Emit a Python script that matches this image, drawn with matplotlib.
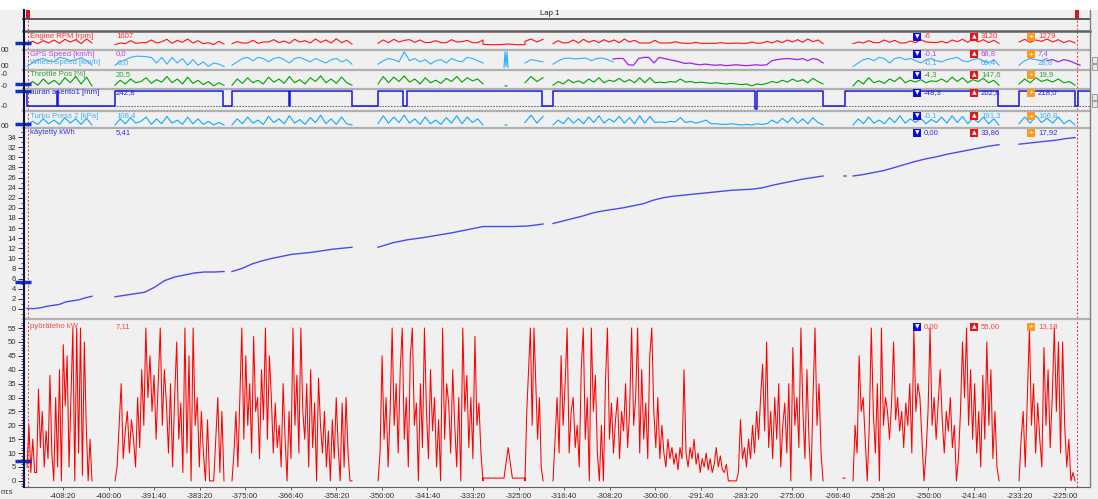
import numpy as np
import matplotlib
matplotlib.use("Agg")
import matplotlib.pyplot as plt
from matplotlib.lines import Line2D
from matplotlib.patches import Rectangle
from matplotlib.ticker import MultipleLocator, FuncFormatter

plt.rcParams['font.family'] = ['Liberation Sans', 'DejaVu Sans']

# Visible time window in seconds, lap marker times and x tick positions
t_left, t_right = -24939, -13227
lap_marks = [-24884, -13370]
x_ticks = list(range(-24500, -13499, 500))

# Time blocks (start, end) where the logger has samples
top_blocks = [(-24895, -24182), (-23929, -22733), (-22645, -21328), (-21042, -19890),
              (-19890, -19429), (-19429, -19231), (-19121, -16157), (-15828, -14226),
              (-14006, -13391)]
thr_blocks = [(-24895, -24182), (-23929, -22733), (-22645, -21328), (-21042, -19890),
              (-19648, -19626), (-19429, -19231), (-19121, -16157), (-15828, -14226),
              (-14006, -13391)]
wheel_blocks = [(-24895, -24182), (-23929, -22733), (-22645, -21328), (-21042, -19890),
                (-19659, -19615), (-19429, -19231), (-19121, -18463), (-15828, -14226),
                (-14006, -13699)]
gps_blocks = [(-18463, -16157), (-13699, -13336)]
kwh_blocks = [(-24895, -24182), (-23929, -22733), (-22645, -21328), (-21042, -19231),
              (-19121, -16157), (-15927, -15905), (-15828, -14226), (-14006, -13391)]
kw_blocks = [(-24895, -24182), (-23929, -22733), (-22645, -21328), (-21042, -19890),
             (-19890, -19429), (-19429, -19231), (-19121, -16157), (-15938, -15916),
             (-15828, -14226), (-14006, -13391)]

# Engine RPM [rpm]
rpm_values = [
    [1200, 2000, 1300, 2200, 1500, 2400, 1400, 2600, 1800, 2500, 1300, 2700, 1500],
    [1000, 1500, 1300, 2200, 1400, 1600, 1600, 2400, 1500, 1900, 2600, 1400, 2300, 1700,
     2700, 1500, 2200, 1300, 1600, 1000, 2000, 1200],
    [1300, 1900, 1500, 1500, 2300, 1400, 1800, 1800, 2500, 1600, 2100, 1400, 2600, 1800,
     2200, 1500, 2700, 1700, 2400, 1500, 2800, 1600, 2300, 1200],
    [1400, 2400, 1600, 2600, 1800, 2300, 2500, 1700, 2400, 1600, 1700, 2200, 1600, 1600,
     2500, 1800, 1900, 2300, 1600, 1600, 2400],
    [1100, 1000, 1000, 1200, 1000, 1000],
    [2000, 2700, 1800, 2600],
    [1300, 2200, 1500, 1600, 2400, 1500, 2600, 1700, 2300, 1600, 2500, 1800, 2400, 1600,
     2700, 1800, 2300, 1500,
     1500, 1500, 2300, 1500, 1500, 1500, 1900, 1500, 1400, 1400, 1700, 1400, 1400, 1400,
     1400, 1600, 1400, 1400, 1500, 1400, 1400, 1800, 1400, 1500,
     2000, 1500, 2200, 1600, 2400, 1800, 2500, 1700, 2700, 1900, 2400, 1300],
    [1300, 1800, 1500, 2200, 1600, 1600, 2400, 1700, 2300, 1500, 1500, 2100, 1600, 2500,
     1800, 1700, 1600, 2000, 1500, 2400, 1900, 2600, 1700, 2800, 1800, 2500, 1600, 2300, 1400],
    [1800, 2600, 1700, 2400, 2000, 2700, 1800, 2500, 1600, 2200, 1500],
]

# Wheel Speed [km/h] and GPS Speed [km/h]
wheel_values = [
    [5, 20, 35, 40, 30, 25, 45, 40, 30, 35, 45, 30, 10],
    [10, 25, 35, 45, 50, 50, 48, 45, 20, 45, 15, 45, 20, 40, 10, 35, 10, 25, 5, 20, 15, 5],
    [10, 25, 40, 45, 30, 45, 40, 25, 40, 45, 35, 20, 40, 45, 35, 25, 40, 30, 20, 35, 40, 25, 35, 15],
    [15, 30, 40, 35, 25, 70, 30, 40, 25, 35, 15, 30, 35, 20, 40, 30, 25, 45, 40, 30, 20],
    [0, 70, 5, 70, 0],
    [20, 35, 30, 25],
    [15, 30, 40, 42, 38, 40, 42, 30, 40, 42, 35, 25],
    [5, 20, 35, 40, 30, 45, 40, 20, 40, 45, 35, 40, 30, 20, 35, 40, 30, 25, 35, 40, 45, 30,
     25, 35, 40, 30, 20, 35, 10],
    [10, 30, 40, 35, 30, 40],
]
gps_values = [
    [38, 40, 40, 12, 10, 40, 45, 45, 20, 45, 40, 35, 30, 25, 18, 20, 15, 12, 15, 12, 10, 12,
     8, 10, 12, 10, 8, 10, 12, 10, 12, 30, 35, 38, 40, 38, 35, 40, 30, 40, 35, 20],
    [30, 35, 25, 35, 30, 20, 10],
]

# Throttle Pos [%]
thr_values = [
    [5, 40, 10, 60, 20, 50, 15, 70, 30, 80, 20, 75, 5],
    [10, 50, 20, 60, 30, 40, 70, 25, 55, 35, 80, 30, 60, 20, 75, 25, 50, 15, 40, 5, 30, 10],
    [10, 60, 25, 70, 30, 50, 20, 75, 35, 60, 25, 80, 30, 55, 20, 70, 40, 85, 30, 60, 25, 75, 30, 10],
    [20, 80, 30, 75, 40, 85, 35, 60, 20, 70, 30, 50, 25, 65, 40, 80, 35, 70, 45, 60, 20],
    [5, 5],
    [30, 80, 40, 70],
    [10, 40, 20, 55, 30, 45, 25, 60, 35, 70, 30, 50, 40, 65, 35, 55, 30, 70,
     30, 70, 30, 35, 30, 40, 35, 60, 35, 40, 30, 35, 30, 25, 30, 25, 20, 25, 20, 15, 20, 5, 20, 15,
     25, 40, 30, 50, 35, 60, 40, 55, 30, 65, 40, 20],
    [5, 50, 20, 70, 30, 45, 25, 60, 40, 75, 30, 50, 35, 55, 30, 45, 40, 60, 35, 75, 40, 70,
     30, 55, 40, 65, 30, 50, 10],
    [20, 60, 30, 70, 40, 55, 35, 60, 30, 40, 10],
]

# Turbo Press 2 [kPa]
turbo_values = [
    [100, 130, 105, 150, 110, 140, 105, 160, 115, 150, 105, 155, 100],
    [100, 150, 110, 160, 115, 130, 165, 105, 150, 110, 170, 115, 140, 105, 165, 110, 150,
     105, 130, 100, 120, 100],
    [100, 150, 110, 165, 115, 140, 105, 170, 120, 150, 110, 175, 115, 145, 105, 160, 120,
     180, 110, 150, 105, 165, 110, 100],
    [110, 175, 115, 165, 120, 180, 115, 150, 105, 165, 110, 140, 105, 160, 115, 175, 110,
     165, 120, 150, 100],
    [100, 100],
    [120, 180, 115, 170],
    [100, 140, 110, 160, 115, 150, 110, 165, 120, 175, 115, 150, 125, 170, 115, 160, 110, 175,
     115, 170, 120, 125, 120, 130, 125, 160, 120, 130, 115, 125, 140, 110, 110, 105, 105, 110,
     105, 100, 105, 100, 110, 105,
     110, 140, 115, 155, 120, 160, 115, 150, 110, 160, 120, 100],
    [100, 150, 110, 165, 115, 140, 110, 160, 120, 175, 115, 150, 120, 155, 110, 145, 120, 165,
     115, 175, 120, 170, 110, 155, 120, 165, 110, 150, 100],
    [110, 165, 115, 175, 120, 155, 115, 165, 110, 140, 100],
]

# auran asento1 [mm] (step signal): change times and levels
auran_t = [-24939, -24895, -24566, -24555, -23929, -22744, -22645, -22019, -22008, -21328,
           -21042, -20768, -20724, -19242, -19121, -16904, -16882, -16157, -15916, -14236,
           -14006, -13391, -13358, -13227]
auran_v = [242, 0, 242, 0, 242, 0, 242, 0, 242, 0, 242, 0, 242, 0, 242, -48, 242, 0, 242, 0,
           242, 0, 242, 242]

# käytetty kWh
kwh_values = [
    [0.1, 0.05, 0.2, 0.5, 0.7, 0.9, 1.4, 1.6, 1.8, 2.2, 2.5],
    [2.4, 2.7, 3.0, 3.3, 4.3, 5.6, 6.3, 6.7, 7.1, 7.3, 7.3, 7.4],
    [7.4, 8.0, 8.9, 9.5, 10.0, 10.4, 10.8, 11.0, 11.2, 11.5, 11.8, 12.0, 12.2],
    [12.2, 13.1, 13.7, 14.1, 14.6, 15.1, 15.7, 16.3, 16.3, 16.3, 16.4, 16.8],
    [16.9, 17.4, 17.9, 18.4, 19.0, 19.4, 19.7, 20.0, 20.4, 20.8, 21.5, 22.0, 22.3, 22.5,
     22.7, 22.9, 23.1, 23.3, 23.5, 23.6, 23.7, 24.0, 24.5, 24.9, 25.3, 25.7, 26.0, 26.3],
    [26.3, 26.3],
    [26.3, 26.6, 27.0, 27.4, 28.0, 28.6, 29.2, 29.7, 30.1, 30.6, 31.0, 31.4, 31.8, 32.2, 32.5],
    [32.6, 32.8, 33.0, 33.2, 33.4, 33.7, 33.9],
]

# pyöräteho kW
kw_values = [
    [5, 20, 3, 15, 3, 3, 33, 12, 25, 5, 18, 8, 38, 10, 0, 30, 5, 40, 0, 49, 27, 45, 5, 30,
     55, 0, 55, 10, 55, 2, 50, 20, 0, 15, 0],
    [0, 5, 20, 35, 8, 18, 25, 10, 22, 15, 5, 30, 12, 40, 20, 55, 30, 45, 25, 38, 15, 35, 55,
     20, 40, 28, 10, 35, 5, 30, 50, 15, 28, 3, 55, 10, 45, 0, 55, 20, 30, 5, 25, 10, 0, 22,
     0, 0, 0, 15, 30, 3, 25, 0],
    [0, 10, 25, 5, 30, 55, 15, 45, 20, 35, 10, 52, 25, 30, 8, 40, 22, 55, 15, 45, 30, 10, 28,
     12, 20, 5, 35, 15, 0, 25, 8, 55, 20, 38, 10, 55, 25, 15, 35, 5, 40, 12, 28, 0, 37, 20,
     10, 25, 5, 18, 0, 22, 8, 30, 12, 0, 28, 5, 30, 10, 0, 0],
    [0, 10, 45, 15, 30, 5, 25, 55, 20, 35, 10, 40, 55, 15, 30, 5, 45, 55, 20, 28, 0, 35, 12,
     55, 25, 8, 40, 18, 30, 5, 22, 0, 55, 15, 35, 28, 10, 40, 20, 5, 30, 0, 55, 25, 38, 12,
     30, 8, 52, 20, 28, 10, 0],
    [1, 1, 1, 1, 1, 1, 12, 1, 1, 1, 1],
    [0, 25, 40, 55, 20, 55, 35, 15, 30, 5, 0],
    [0, 15, 30, 10, 45, 20, 35, 55, 10, 25, 30, 12, 20, 5, 40, 55, 15, 30, 0, 55,
     25, 38, 10, 0, 20, 0, 35, 55, 15, 28, 10, 22, 30, 8, 25, 18, 35, 12, 25, 55,
     20, 30, 55, 10, 40, 15, 28, 8, 45, 55, 25, 12, 30, 8, 20, 10, 5, 15, 8, 12,
     6, 10, 4, 12, 8, 40, 10, 5, 12, 8, 15, 6, 10, 3, 8, 5, 10, 4, 8, 3,
     6, 12, 5, 9, 4, 3, 6, 0, 0, 0, 0, 0, 3, 22, 8, 12, 5, 15, 8, 20,
     10, 25, 15, 30, 42, 18, 50, 12, 25, 8, 30, 15, 35, 5, 20, 28, 10, 35, 0, 48,
     20, 30, 12, 55, 25, 8, 40, 15, 0, 30, 55, 20, 35, 10, 0],
    [1, 1],
    [0, 20, 10, 45, 25, 30, 15, 0, 20, 55, 25, 10, 35, 0, 55, 20, 30, 25, 15, 28,
     50, 22, 30, 18, 25, 12, 28, 20, 35, 10, 55, 25, 35, 30, 15, 0, 10, 25, 55, 20,
     30, 15, 28, 40, 22, 10, 25, 18, 30, 12, 20, 0, 8, 25, 50, 30, 55, 20, 40, 15,
     35, 10, 25, 5, 38, 15, 50, 20, 40, 8, 25, 5, 0],
    [0, 15, 25, 5, 30, 55, 20, 35, 10, 28, 15, 5, 48, 20, 40, 12, 30, 55, 25, 50, 10, 50,
     20, 5, 15, 0, 3, 0],
]

# Channel texts: name, cursor value, min, max, average
ch_names = ['Engine RPM [rpm]', 'GPS Speed [km/h]', 'Wheel Speed [km/h]', 'Throttle Pos [%]',
            'auran asento1 [mm]', 'Turbo Press 2 [kPa]', 'käytetty kWh', 'pyöräteho kW']
ch_cursor = ['1607', '0,0', '-0,0', '20,5', '242,8', '108,4', '5,41', '7,11']
ch_min = ['-6', '-0,1', '-0,1', '-4,3', '-48,3', '-0,1', '0,00', '0,00']
ch_max = ['3120', '68,8', '69,4', '147,6', '262,8', '191,3', '33,86', '55,00']
ch_avg = ['1279', '7,4', '28,8', '19,9', '218,0', '106,8', '17,92', '13,18']
ch_colors = ['#FF3333', '#C040F0', '#40A8F8', '#30A030', '#2828D8', '#40B0FF', '#3434E0', '#F04848']
ch_y = [37, 54, 63, 75, 93, 116, 133, 327]
ch_icons = [True, True, False, True, True, True, True, True]
cursor_vals = [1607, 20.5, 242.8, 108.4, 5.41, 7.11]

W, H = 1098, 499
fig = plt.figure(figsize=(W / 100, H / 100), dpi=100, facecolor='#F0F0F0')


def rect(x0, y0, x1, y1):
    return [x0 / W, 1 - y1 / H, (x1 - x0) / W, (y1 - y0) / H]


def ftext(x, y, s, **kw):
    kw.setdefault('fontsize', 5.6)
    kw.setdefault('va', 'center')
    fig.text(x / W, 1 - y / H, s, **kw)


def fline(xs, ys, **kw):
    fig.add_artist(Line2D([x / W for x in xs], [1 - y / H for y in ys], **kw))


def build(blocks, values):
    xs, ys, last = [], [], None
    for (t0, t1), vals in zip(blocks, values):
        if last is not None and t0 != last:
            xs.append(np.nan)
            ys.append(np.nan)
        xs.extend(np.linspace(t0, t1, len(vals)))
        ys.extend(vals)
        last = t1
    return np.array(xs), np.array(ys)


def strip(y0, y1, ylim):
    ax = fig.add_axes(rect(23, y0, 1090, y1))
    ax.set_xlim(t_left, t_right)
    ax.set_ylim(*ylim)
    ax.patch.set_visible(False)
    for s in ax.spines.values():
        s.set_visible(False)
    ax.set_xticks([])
    ax.set_yticks([])
    for t in lap_marks:
        ax.axvline(t, color='#E03030', lw=0.7, ls=(0, (2, 2)))
    return ax


# top white band
fig.add_artist(Rectangle((0, 1 - 10 / H), 1, 10 / H, transform=fig.transFigure,
                         fc='white', ec='none'))

# lap strip
ax_lap = strip(10, 30, (0, 1))
for t in lap_marks:
    ax_lap.axvspan(t - 20, t + 20, ymin=0.55, ymax=1, color='#D81010', lw=0)
ftext(550, 13.5, 'Lap 1', ha='center', color='#202020')

# small channel strips
ax_rpm = strip(31, 49, (-300, 5100))
x, y = build(top_blocks, rpm_values)
ax_rpm.plot(x, y, color='#FF1010', lw=0.8)

ax_spd = strip(50, 69, (-6.7, 77.8))
x, y = build(wheel_blocks, wheel_values)
ax_spd.plot(x, y, color='#30B0FF', lw=0.8)
x, y = build(gps_blocks, gps_values)
ax_spd.plot(x, y, color='#A020F0', lw=0.9)

ax_thr = strip(70, 88, (-12, 132))
x, y = build(thr_blocks, thr_values)
ax_thr.plot(x, y, color='#00A000', lw=0.8)

ax_aur = strip(89, 110, (-65, 275))
ax_aur.axhline(0, color='#505050', lw=0.6, ls=(0, (2, 1.5)))
ax_aur.plot(auran_t, auran_v, color='#1414E6', lw=1.1, drawstyle='steps-post')

ax_trb = strip(112, 127, (83.6, 206))
x, y = build(thr_blocks, turbo_values)
ax_trb.plot(x, y, color='#10A8FF', lw=0.8)

# energy panel
ax_kwh = strip(128, 318, (-1.8, 35.8))
x, y = build(kwh_blocks, kwh_values)
ax_kwh.plot(x, y, color='#4A4AF2', lw=1.0)
ax_kwh.yaxis.set_major_locator(MultipleLocator(2))
ax_kwh.yaxis.set_minor_locator(MultipleLocator(1))

# power panel
ax_kw = strip(320, 487, (-2.2, 57.9))
x, y = build(kw_blocks, kw_values)
ax_kw.plot(x, y, color='#FF0000', lw=0.75)
ax_kw.yaxis.set_major_locator(MultipleLocator(5))
ax_kw.yaxis.set_minor_locator(MultipleLocator(1))
ax_kw.set_xticks(x_ticks)
ax_kw.xaxis.set_major_formatter(FuncFormatter(
    lambda t, pos: '-%d:%02d' % (abs(int(round(t))) // 60, abs(int(round(t))) % 60)))
ax_kw.spines['bottom'].set_visible(True)
ax_kw.spines['bottom'].set_color('#606060')
ax_kw.tick_params(axis='x', direction='out', length=2.5, width=0.7, color='#606060',
                  labelsize=5.6, labelcolor='#303030', pad=1.5)

for ax in (ax_kwh, ax_kw):
    ax.tick_params(axis='y', which='major', direction='out', length=3.5, width=0.7,
                   color='#303050', labelsize=5.6, labelcolor='#303030', pad=1.5)
    ax.tick_params(axis='y', which='minor', direction='out', length=1.8, width=0.6,
                   color='#303050')

# cursor value markers on the left axis
for ax, v in zip((ax_rpm, ax_thr, ax_aur, ax_trb, ax_kwh, ax_kw), cursor_vals):
    ax.plot([t_left], [v], marker='_', ms=12, mew=2.5, color='#1030C0', clip_on=False)

# separators and frame lines
fline([23, 1090], [19, 19], color='#505050', lw=1.3)
fline([23, 1090], [30.5, 30.5], color='#606060', lw=1.8)
for ys in (49.5, 69.5, 88.5, 110.5, 127.5, 319):
    fline([23, 1090], [ys, ys], color='#B0B0B0', lw=1.6)
fline([23.5, 23.5], [10, 487], color='#101040', lw=1.5)
fline([1090, 1090], [10, 487], color='#808080', lw=1.0)
for yb in (57, 64, 94, 101):
    fig.add_artist(Rectangle((1092 / W, 1 - (yb + 6) / H), 5 / W, 6 / H,
                             transform=fig.transFigure, fc='#E8E8E8', ec='#909090', lw=0.6))

# partial axis labels of the narrow strips
for s, yy in (('00', 51), ('00', 66), ('-0', 75), ('-0', 86), ('-0', 107), ('00', 127)):
    ftext(1, yy, s, color='#303030')
ftext(1, 493, 'm:s', color='#303030')

# channel names, cursor values and min / max / average boxes
for i in range(len(ch_names)):
    c, yy = ch_colors[i], ch_y[i]
    ftext(30, yy, ch_names[i], color=c)
    ftext(116, yy, ch_cursor[i], color=c)
    for xi, val, glyph, fc in ((917, ch_min[i], '▼', '#0A0AE6'),
                               (974, ch_max[i], '▲', '#E61414'),
                               (1031, ch_avg[i], '+', '#FF9A1A')):
        if ch_icons[i]:
            ftext(xi, yy, glyph, color='white', fontsize=4.3, ha='center',
                  family='DejaVu Sans', fontweight='bold',
                  bbox=dict(boxstyle='square,pad=0.22', fc=fc, ec=fc, lw=0))
        ftext(xi + 7, yy, val, color=c)

fig.savefig('out.png', dpi=100, facecolor=fig.get_facecolor())
